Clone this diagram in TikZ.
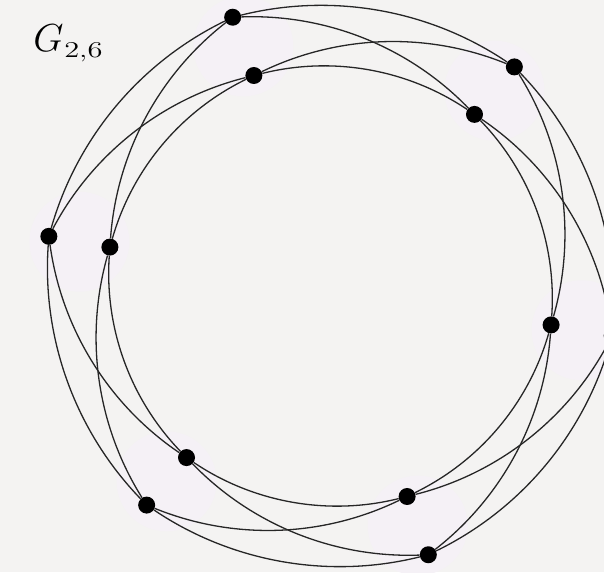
\documentclass[tikz,border=0pt]{standalone}
\usepackage{graphicx}
\definecolor{bgc}{RGB}{244,243,242}
\definecolor{halocol}{RGB}{245,241,246}
\begin{document}
\begin{tikzpicture}[x=1pt,y=1pt,
  dot/.style={circle,fill=black,inner sep=0pt,minimum size=17pt},
  edge/.style={line width=1.3pt,draw=black!85,bend left=24,looseness=0.89}]
\useasboundingbox (0,0) rectangle (604,572);
\clip (0,0) rectangle (604,572);
\fill[bgc] (0,0) rectangle (604,572);
\begin{scope}[shift={(330.5,286)}]
\foreach \k in {1,...,6} {
  \pgfmathsetmacro\a{110-60*(\k-1)}
  \fill[halocol] (\a:255) circle (50);
}
\foreach \k in {1,...,6} {
  \pgfmathsetmacro\a{110-60*(\k-1)}
  \node[dot] (o\k) at (\a:286) {};
  \node[dot] (i\k) at (\a:224) {};
}
\end{scope}
\foreach \k/\m in {1/2,2/3,3/4,4/5,5/6,6/1} {
  \draw[edge] (o\k) to (o\m);
  \draw[edge] (o\k) to (i\m);
  \draw[edge] (i\k) to (o\m);
  \draw[edge] (i\k) to (i\m);
}
\node[anchor=base west,inner sep=0pt,scale=1.57,font=\fontsize{24.88}{26}\selectfont] (lbl) at (33,520) {$G_{\mbox{\kern0.5pt\scalebox{1.35}[1]{\fontsize{14.4}{16}\selectfont 2,6}}}$};
\end{tikzpicture}
\end{document}
